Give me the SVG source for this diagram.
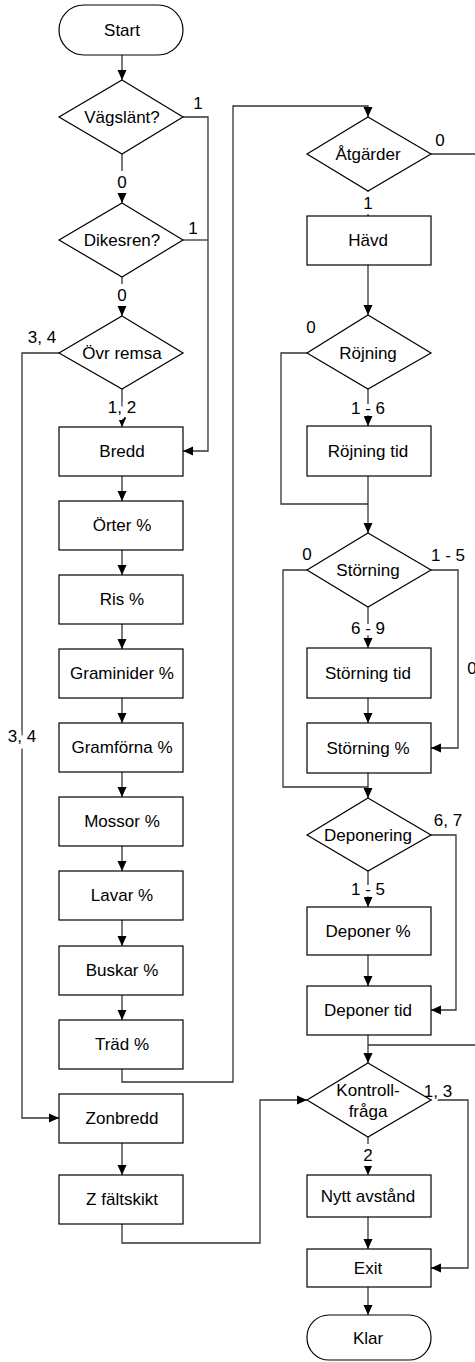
<svg xmlns="http://www.w3.org/2000/svg" width="475" height="1362" viewBox="0 0 475 1362">
<style>
.s{fill:#fff;stroke:#000;stroke-width:1.2}
.t{font-family:"Liberation Sans",Arial,sans-serif;font-size:17px;fill:#000;text-anchor:middle}
.l{font-family:"Liberation Sans",Arial,sans-serif;font-size:17px;fill:#000;text-anchor:middle;stroke:#fff;stroke-width:4;paint-order:stroke}
.lb{stroke-width:10;stroke-linejoin:round}
.c{fill:none;stroke:#333;stroke-width:1.3}
</style>
<defs>
<marker id="a" markerUnits="userSpaceOnUse" markerWidth="10" markerHeight="10" viewBox="0 0 10 10" refX="10" refY="5" orient="auto">
<path d="M0,0.5 L10,5 L0,9.5 z" fill="#000"/>
</marker>
</defs>
<g id="connectors">
<path class="c" d="M122,55 V80" marker-end="url(#a)"/>
<path class="c" d="M122,154 V203" marker-end="url(#a)"/>
<path class="c" d="M122,277 V316" marker-end="url(#a)"/>
<path class="c" d="M122,389 V427" marker-end="url(#a)"/>
<path class="c" d="M183,117 H208 V451 H183" marker-end="url(#a)"/>
<path class="c" d="M183,240 H208"/>
<path class="c" d="M59,353 H22 V1118 H59" marker-end="url(#a)"/>
<path class="c" d="M122,476 V501" marker-end="url(#a)"/>
<path class="c" d="M122,550 V575" marker-end="url(#a)"/>
<path class="c" d="M122,624 V649" marker-end="url(#a)"/>
<path class="c" d="M122,698 V723" marker-end="url(#a)"/>
<path class="c" d="M122,772 V797" marker-end="url(#a)"/>
<path class="c" d="M122,846 V871" marker-end="url(#a)"/>
<path class="c" d="M122,920 V946" marker-end="url(#a)"/>
<path class="c" d="M122,995 V1020" marker-end="url(#a)"/>
<path class="c" d="M122,1069 V1082 H233 V106 H368 V117" marker-end="url(#a)"/>
<path class="c" d="M122,1143 V1175" marker-end="url(#a)"/>
<path class="c" d="M122,1224 V1243 H260 V1100 H307" marker-end="url(#a)"/>
<path class="c" d="M431,154 H480"/>
<path class="c" d="M368,191 V216"/>
<path class="c" d="M368,265 V315" marker-end="url(#a)"/>
<path class="c" d="M307,353 H281 V504 H368"/>
<path class="c" d="M368,389 V426" marker-end="url(#a)"/>
<path class="c" d="M368,476 V533" marker-end="url(#a)"/>
<path class="c" d="M307,570 H283 V787 H368"/>
<path class="c" d="M431,570 H458 V748 H431" marker-end="url(#a)"/>
<path class="c" d="M368,607 V648" marker-end="url(#a)"/>
<path class="c" d="M368,698 V723" marker-end="url(#a)"/>
<path class="c" d="M368,773 V798" marker-end="url(#a)"/>
<path class="c" d="M431,835 H456 V1010 H431" marker-end="url(#a)"/>
<path class="c" d="M368,871 V907" marker-end="url(#a)"/>
<path class="c" d="M368,955 V986" marker-end="url(#a)"/>
<path class="c" d="M368,1035 V1063" marker-end="url(#a)"/>
<path class="c" d="M480,1045 H368"/>
<path class="c" d="M431,1100 H468 V1268 H431" marker-end="url(#a)"/>
<path class="c" d="M368,1137 V1175" marker-end="url(#a)"/>
<path class="c" d="M368,1217 V1249" marker-end="url(#a)"/>
<path class="c" d="M368,1287 V1315" marker-end="url(#a)"/>
</g>
<g id="labels">
<text class="l" x="198" y="109">1</text>
<text class="l lb" x="122" y="188">0</text>
<text class="l" x="193" y="234">1</text>
<text class="l lb" x="122" y="301">0</text>
<text class="l" x="42" y="343">3, 4</text>
<text class="l lb" x="122" y="413">1, 2</text>
<text class="l lb" x="22" y="742">3, 4</text>
<text class="l" x="440" y="146">0</text>
<text class="l lb" x="368" y="209">1</text>
<text class="l" x="311" y="333">0</text>
<text class="l lb" x="368" y="414">1 - 6</text>
<text class="l" x="307" y="560">0</text>
<text class="l" x="448" y="561">1 - 5</text>
<text class="l lb" x="368" y="634">6 - 9</text>
<text class="l" x="472" y="674">0</text>
<text class="l" x="448" y="826">6, 7</text>
<text class="l lb" x="368" y="895">1 - 5</text>
<text class="l" x="438" y="1097">1, 3</text>
<text class="l lb" x="368" y="1161">2</text>
</g>
<g id="start"><rect class="s" x="59" y="5" width="124" height="50" rx="25"/><text class="t" x="122" y="36">Start</text></g>
<g id="vagslant"><path class="s" d="M122,80 L183,117 L122,154 L59,117 z"/><text class="t" x="122" y="123">Vägslänt?</text></g>
<g id="dikesren"><path class="s" d="M122,203 L183,240 L122,277 L59,240 z"/><text class="t" x="122" y="246">Dikesren?</text></g>
<g id="ovrremsa"><path class="s" d="M122,316 L183,353 L122,389 L59,353 z"/><text class="t" x="122" y="359">Övr remsa</text></g>
<g id="bredd"><rect class="s" x="59" y="427" width="124" height="49"/><text class="t" x="122" y="457">Bredd</text></g>
<g id="orter"><rect class="s" x="59" y="501" width="124" height="49"/><text class="t" x="122" y="531">Örter %</text></g>
<g id="ris"><rect class="s" x="59" y="575" width="124" height="49"/><text class="t" x="122" y="605">Ris %</text></g>
<g id="graminider"><rect class="s" x="59" y="649" width="124" height="49"/><text class="t" x="122" y="679">Graminider %</text></g>
<g id="gramforna"><rect class="s" x="59" y="723" width="124" height="49"/><text class="t" x="122" y="753">Gramförna %</text></g>
<g id="mossor"><rect class="s" x="59" y="797" width="124" height="49"/><text class="t" x="122" y="827">Mossor %</text></g>
<g id="lavar"><rect class="s" x="59" y="871" width="124" height="49"/><text class="t" x="122" y="901">Lavar %</text></g>
<g id="buskar"><rect class="s" x="59" y="946" width="124" height="49"/><text class="t" x="122" y="976">Buskar %</text></g>
<g id="trad"><rect class="s" x="59" y="1020" width="124" height="49"/><text class="t" x="122" y="1050">Träd %</text></g>
<g id="zonbredd"><rect class="s" x="59" y="1094" width="124" height="49"/><text class="t" x="122" y="1124">Zonbredd</text></g>
<g id="zfaltskikt"><rect class="s" x="59" y="1175" width="124" height="49"/><text class="t" x="122" y="1205">Z fältskikt</text></g>
<g id="atgarder"><path class="s" d="M368,117 L431,154 L368,191 L307,154 z"/><text class="t" x="368" y="160">Åtgärder</text></g>
<g id="havd"><rect class="s" x="307" y="216" width="124" height="49"/><text class="t" x="368" y="246">Hävd</text></g>
<g id="rojning"><path class="s" d="M368,315 L431,353 L368,389 L307,353 z"/><text class="t" x="368" y="359">Röjning</text></g>
<g id="rojningtid"><rect class="s" x="307" y="426" width="124" height="50"/><text class="t" x="368" y="457">Röjning tid</text></g>
<g id="storning"><path class="s" d="M368,533 L431,570 L368,607 L307,570 z"/><text class="t" x="368" y="576">Störning</text></g>
<g id="storningtid"><rect class="s" x="307" y="648" width="124" height="50"/><text class="t" x="368" y="679">Störning tid</text></g>
<g id="storningpct"><rect class="s" x="307" y="723" width="124" height="50"/><text class="t" x="368" y="754">Störning %</text></g>
<g id="deponering"><path class="s" d="M368,798 L431,835 L368,871 L307,835 z"/><text class="t" x="368" y="841">Deponering</text></g>
<g id="deponerpct"><rect class="s" x="307" y="907" width="124" height="48"/><text class="t" x="368" y="937">Deponer %</text></g>
<g id="deponertid"><rect class="s" x="307" y="986" width="124" height="49"/><text class="t" x="368" y="1016">Deponer tid</text></g>
<g id="kontroll"><path class="s" d="M368,1063 L431,1100 L368,1137 L307,1100 z"/><text class="t" x="368" y="1096">Kontroll-</text><text class="t" x="368" y="1117">fråga</text></g>
<g id="nytt"><rect class="s" x="307" y="1175" width="124" height="42"/><text class="t" x="368" y="1202">Nytt avstånd</text></g>
<g id="exit"><rect class="s" x="307" y="1249" width="124" height="38"/><text class="t" x="368" y="1274">Exit</text></g>
<g id="klar"><rect class="s" x="307" y="1315" width="124" height="45" rx="22"/><text class="t" x="368" y="1344">Klar</text></g>
</svg>
